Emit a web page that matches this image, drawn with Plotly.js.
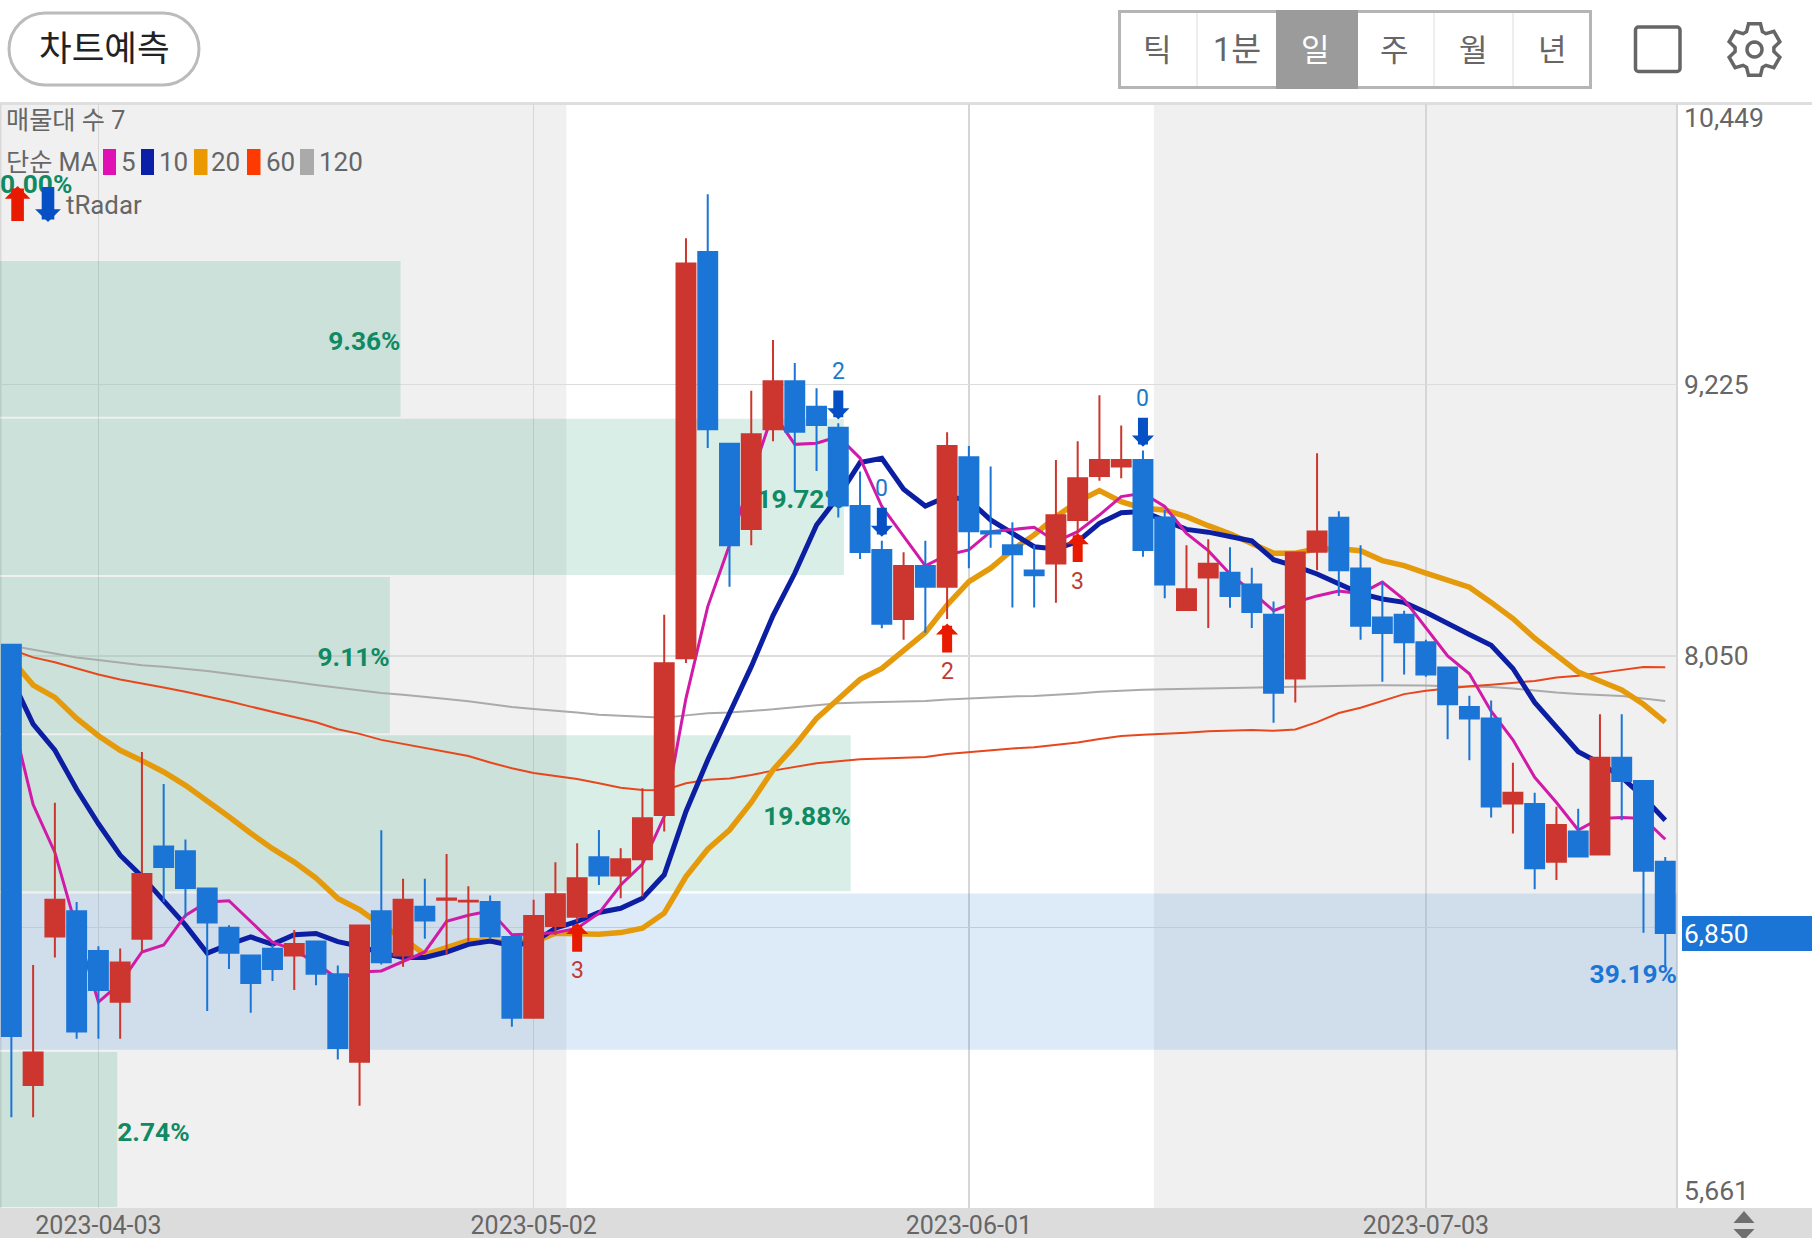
<!DOCTYPE html>
<html><head><meta charset="utf-8">
<script src="https://cdn.plot.ly/plotly-3.0.1.min.js"></script>
<style>html,body{margin:0;padding:0;background:#fff}#c{width:1812px;height:1238px}</style></head>
<body><div id="c"></div>
<script>
const open_=[8099,6193,6836,6945,6773,6554,6826,7225,7205,7044,6874,6754,6783,6754,6814,6673,6294,6945,6754,6965,6995,6987,6985,6834,6484,6882,6922,7179,7100,7170,7362,8040,9798,8969,8600,9031,9239,9129,9038,8699,8509,8210,8440,8350,8910,8590,8529,8420,8450,8639,8829,8870,8898,8649,8249,8390,8410,8359,8229,7953,8501,8648,8429,8217,8228,8110,8000,7829,7780,7412,7409,7160,7290,7191,7610,7509,7160];
const high_=[8099,6713,7415,6985,6794,6784,7635,7496,7256,7044,6885,6754,6800,6864,6814,6711,6884,7296,7086,7086,7193,7054,7014,6834,6995,7157,7240,7297,7218,7478,8228,9858,10048,8969,9198,9418,9318,9209,9057,8848,8549,8499,8549,9018,8959,8870,8629,8529,8898,8979,9178,9048,8939,8682,8529,8555,8521,8432,8286,8498,8928,8677,8529,8375,8246,8120,8000,7878,7857,7588,7458,7398,7389,7798,7798,7509,7180];
const low_=[6054,6054,6745,6393,6393,6393,6769,6985,6918,6514,6695,6506,6643,6605,6625,6304,6104,6715,6705,6826,6758,6814,6824,6445,6484,6843,6900,7059,7002,7009,7290,8020,8950,8350,8529,8979,8761,8851,8649,8470,8170,8120,8151,8210,8430,8519,8260,8260,8281,8581,8809,8819,8480,8300,8249,8171,8259,8171,7761,7849,8421,8310,8120,7939,7970,7960,7690,7599,7351,7282,7041,7081,7182,7191,7339,6852,6705];
const close_=[6405,6334,6995,6425,6605,6723,7106,7137,7046,6897,6766,6635,6695,6804,6675,6354,6884,6725,6995,6905,7000,6991,6836,6484,6925,7019,7088,7100,7170,7348,8019,9749,9031,8529,9010,9239,9021,9050,8701,8500,8190,8440,8350,8959,8590,8580,8490,8400,8659,8819,8898,8898,8509,8359,8339,8449,8310,8240,7891,8498,8589,8421,8181,8150,8110,7970,7841,7780,7399,7458,7131,7319,7182,7610,7509,7121,6851];
const ma5=[7796,7407,7200,6870,6552,6634,6769,6799,6927,6985,6991,6902,6811,6778,6720,6653,6682,6687,6728,6769,6902,6928,6947,6844,6847,6852,6872,6937,7059,7149,7355,7867,8264,8530,8823,9103,8966,8971,9000,8906,8697,8567,8440,8487,8509,8588,8596,8607,8545,8588,8660,8740,8754,8697,8581,8506,8405,8328,8246,8282,8310,8331,8320,8370,8294,8171,8050,7973,7811,7687,7525,7416,7297,7347,7351,7347,7257];
const ma10=[7953,7755,7642,7473,7324,7188,7096,6993,6885,6764,6802,6834,6802,6844,6849,6814,6794,6764,6745,6745,6769,6802,6816,6797,6811,6872,6901,6940,6958,7002,7103,7377,7600,7802,8004,8225,8408,8617,8740,8887,8906,8772,8699,8740,8725,8639,8581,8523,8513,8545,8624,8670,8675,8639,8598,8586,8568,8548,8467,8439,8405,8362,8320,8297,8282,8239,8189,8143,8096,7996,7849,7741,7636,7586,7525,7440,7339];
const ma20=[8036,7924,7871,7780,7705,7642,7597,7548,7490,7424,7354,7283,7216,7158,7089,7001,6952,6885,6827,6758,6786,6819,6816,6811,6811,6850,6847,6846,6853,6872,6937,7095,7214,7297,7416,7557,7662,7780,7864,7949,7996,8076,8151,8271,8372,8430,8509,8574,8653,8718,8766,8718,8689,8682,8653,8614,8579,8537,8495,8495,8514,8514,8506,8463,8441,8409,8378,8348,8282,8212,8127,8050,7980,7942,7903,7841,7764];
const ma60=[8078,8044,8023,7995,7970,7948,7932,7914,7895,7876,7854,7831,7809,7786,7763,7733,7713,7687,7669,7650,7634,7617,7589,7564,7544,7531,7518,7499,7480,7470,7469,7499,7514,7520,7535,7554,7571,7586,7595,7603,7606,7610,7613,7626,7634,7643,7650,7655,7665,7676,7691,7704,7709,7712,7718,7724,7728,7730,7726,7732,7764,7803,7826,7857,7885,7900,7911,7919,7926,7934,7942,7957,7965,7977,7990,8002,8001];
const ma120=[8094,8078,8061,8044,8033,8020,8010,8003,7995,7985,7973,7962,7948,7937,7924,7912,7900,7890,7882,7874,7864,7854,7841,7829,7821,7814,7805,7796,7791,7785,7783,7793,7802,7806,7812,7819,7828,7837,7845,7849,7851,7852,7855,7862,7867,7871,7875,7877,7881,7888,7895,7901,7904,7906,7908,7911,7913,7914,7914,7916,7919,7922,7922,7923,7923,7922,7919,7919,7916,7909,7900,7892,7886,7882,7877,7866,7855];
const dateTickIdx=[4,24,44,65];
const dateTickText=['2023-04-03','2023-05-02','2023-06-01','2023-07-03'];
const priceTickVals=[9225,8050,6875];
const priceTickText=['9,225','8,050',''];
const priceMax=10449, priceMin=5661, lastPrice=6847;
const bandLow=[9764,9081,8396,7711,7027,6341,5661];
const bandHigh=[10439,9764,9081,8396,7711,7027,6341];
const bandPct=[0,9.36,19.72,9.11,19.88,39.19,2.74];
const upIdx=[26,43,49], upPrice=[6895,8191,8582], upCount=['3','2','3'];
const downIdx=[38,40,52], downPrice=[9074,8566,8956], downCount=['2','0','0'];
const shadeStart=[-0.52,52.5], shadeEnd=[25.5,76.54];
const periods=['틱','1분','일','주','월','년'];

const W=1812,H=1238;
const px=v=>v/W, py=v=>1-v/H;
const FONT="Roboto, 'Noto Sans CJK KR', sans-serif";
const RED='#cc362e', BLUE='#1b75d6', GREY='#666666', GREEN='#0f8a63';
const xRange=[-0.522,76.54], yRange=[5661,10439];
const idx=close_.map((_,i)=>i);
const pctToX=(xRange[1]-xRange[0])/39.19;
const mids=bandLow.map((l,i)=>(l+bandHigh[i])/2);

function line(name,y,color,width){return {type:'scatter',mode:'lines',name,x:idx,y,line:{color,width},zorder:1,hoverinfo:'skip',showlegend:false};}
const traces=[
 {type:'bar',orientation:'h',x:bandPct.map(p=>p*pctToX),y:mids,base:bandPct.map(()=>xRange[0]),width:bandLow.map((l,i)=>bandHigh[i]-l-9),
  marker:{color:bandPct.map((p,i)=>i===5?'rgba(25,118,210,0.15)':'rgba(0,138,94,0.15)'),line:{width:0}},zorder:0,hoverinfo:'skip',showlegend:false},
 {type:'scatter',mode:'text',x:bandPct.map(p=>p*pctToX+xRange[0]),y:mids.map(m=>m-20),text:bandPct.map(p=>p.toFixed(2)+'%'),
  textposition:bandPct.map(p=>p<5?'middle right':'middle left'),
  textfont:{family:FONT,size:26.3,weight:700,color:bandPct.map((p,i)=>i===5?BLUE:GREEN)},cliponaxis:false,zorder:0,hoverinfo:'skip',showlegend:false},
 line('MA120',ma120,'#aaaaaa',2),
 line('MA60',ma60,'#e8471c',2),
 line('MA20',ma20,'#e59a0c',5.5),
 line('MA10',ma10,'#0c1fa3',5),
 line('MA5',ma5,'#d11aa8',3),
 {type:'candlestick',x:idx,open:open_,high:high_,low:low_,close:close_,
  increasing:{line:{color:RED,width:2},fillcolor:RED},decreasing:{line:{color:BLUE,width:2},fillcolor:BLUE},
  whiskerwidth:0,zorder:2,hoverinfo:'skip',showlegend:false}
];

const shapes=[];
shadeStart.forEach((s,i)=>shapes.push({type:'rect',layer:'below',xref:'x',yref:'paper',x0:s,x1:shadeEnd[i],y0:py(1208),y1:py(104),fillcolor:'#f0f0f0',line:{width:0}}));
function paperRect(x0,y0,x1,y1,fill,lineColor,lw,layer){shapes.push({type:'rect',layer:layer||'below',xref:'paper',yref:'paper',x0:px(x0),x1:px(x1),y0:py(y1),y1:py(y0),fillcolor:fill||'rgba(0,0,0,0)',line:{color:lineColor||'rgba(0,0,0,0)',width:lw||0}});}
function paperPath(d,fill,lineColor,lw){shapes.push({type:'path',layer:'above',xref:'paper',yref:'paper',path:d,fillcolor:fill||'rgba(0,0,0,0)',line:{color:lineColor||'rgba(0,0,0,0)',width:lw||0}});}
const P=(x,y)=>px(x)+','+py(y);
function rrect(x0,y0,x1,y1,r){const k=r*0.45;return 'M'+P(x0+r,y0)+'L'+P(x1-r,y0)+'C'+P(x1-k,y0)+' '+P(x1,y0+k)+' '+P(x1,y0+r)+'L'+P(x1,y1-r)+'C'+P(x1,y1-k)+' '+P(x1-k,y1)+' '+P(x1-r,y1)+'L'+P(x0+r,y1)+'C'+P(x0+k,y1)+' '+P(x0,y1-k)+' '+P(x0,y1-r)+'L'+P(x0,y0+r)+'C'+P(x0,y0+k)+' '+P(x0+k,y0)+' '+P(x0+r,y0)+'Z';}
// chrome
paperRect(0,102,1812,105,'#dedede');
paperRect(0,1208,1812,1238,'#dcdcdc');
paperRect(1676,104,1678,1208,'#d5d5d5');
paperRect(0,104,1.5,1208,'#d9d9d9');
paperRect(1682,916,1812,951,BLUE,null,0,'above');
paperPath(rrect(9,13,199,85,36),'#ffffff','#bbbbbb',3);
// period selector
paperRect(1119.5,11.5,1590.5,87.5,'#ffffff','#b5b5b5',3,'above');
paperRect(1276,10,1358,89,'#9b9b9b',null,0,'above');
[1197,1434,1513].forEach(x=>paperRect(x-1,13,x+1,86,'#eeeeee',null,0,'above'));
paperPath(rrect(1635.5,27,1680,71.5,3),'rgba(0,0,0,0)',GREY,3.5);
// gear icon
(function(){let d='';const cx=1754.5,cy=49.5;for(let i=0;i<6;i++){const a=(i*60-90)*Math.PI/180;
 [[19.5,-24],[26.5,-13],[26.5,13],[19.5,24]].forEach((q,j)=>{const b=a+q[1]*Math.PI/180;d+=((i===0&&j===0)?'M':'L')+P(cx+q[0]*Math.cos(b),cy+q[0]*Math.sin(b));});}
 d+='Z';paperPath(d,'rgba(0,0,0,0)',GREY,3.5);
 let c='';for(let i=0;i<=24;i++){const b=i*15*Math.PI/180;c+=(i?'L':'M')+P(cx+7.5*Math.cos(b),cy+7.5*Math.sin(b));}paperPath(c+'Z','rgba(0,0,0,0)',GREY,3.5);})();
// scroll triangles
paperPath('M'+P(1744,1211)+'L'+P(1754.5,1223)+'L'+P(1733.5,1223)+'Z','#6e6e6e');
paperPath('M'+P(1733.5,1229)+'L'+P(1754.5,1229)+'L'+P(1746,1238)+'L'+P(1742,1238)+'Z','#6e6e6e');
// legend swatches
[[103,116,'#e010b4'],[141,154,'#0c1fa8'],[194,207.5,'#ea9a00'],[247,260.5,'#ff3a00'],[300,314,'#aaaaaa']].forEach(s=>paperRect(s[0],149,s[1],175,s[2],null,0,'above'));

const ann=[];
function txt(t,x,y,size,color,anchor,extra){ann.push(Object.assign({text:t,xref:'paper',yref:'paper',x:px(x),y:py(y),showarrow:false,xanchor:anchor||'left',yanchor:'middle',borderpad:0,font:{family:FONT,size,color}},extra||{}));}
txt('차트예측',104,49,35.5,'#222222','center');
periods.forEach((p,i)=>txt(p,[1157,1236.5,1315,1394,1473,1552][i],50,i===1?32.5:31,i===2?'#ffffff':GREY,'center'));
txt('매물대 수 7',4.5,120,25.2,GREY);
txt('단순 MA',5,162,25.2,GREY);
[['5',120],['10',158],['20',210],['60',264.5],['120',318]].forEach(s=>txt(s[0],s[1],162,26,GREY));
txt('tRadar',65,205,25.8,GREY);
txt(priceMax.toLocaleString('en-US'),1683,118,26.6,GREY);
txt(priceMin.toLocaleString('en-US'),1683,1190,26.6,GREY);
ann.push({text:lastPrice>=6845?'6,850':'',xref:'paper',yref:'y',x:px(1683),y:lastPrice,showarrow:false,xanchor:'left',yanchor:'middle',borderpad:0,font:{family:FONT,size:26.4,color:'#ffffff'}});
function arrow(o,color,w,size,ay){ann.push(Object.assign({text:' ',font:{size:1},borderpad:0,showarrow:true,arrowhead:1,arrowcolor:color,arrowwidth:w,arrowsize:size,standoff:0,ax:0,ay},o));}
arrow({xref:'paper',yref:'paper',x:px(17.6),y:py(186)},'#e81a00',12.6,0.34,36);
arrow({xref:'paper',yref:'paper',x:px(48),y:py(222)},'#0550c5',12.6,0.34,-36);
upIdx.forEach((x,i)=>{arrow({xref:'x',yref:'y',x,y:upPrice[i]},'#e81a00',10,0.37,30);
 ann.push({text:upCount[i],xref:'x',yref:'y',x,y:upPrice[i],yshift:-48,showarrow:false,borderpad:0,font:{family:FONT,size:23,color:'#bd3b34'}});});
downIdx.forEach((x,i)=>{arrow({xref:'x',yref:'y',x,y:downPrice[i]},'#0550c5',10,0.37,-30);
 ann.push({text:downCount[i],xref:'x',yref:'y',x,y:downPrice[i],yshift:48,showarrow:false,borderpad:0,font:{family:FONT,size:23,color:'#1e78c8'}});});

const layout={width:W,height:H,margin:{l:0,r:0,t:0,b:0,pad:0},paper_bgcolor:'#ffffff',plot_bgcolor:'#ffffff',showlegend:false,
 font:{family:FONT,color:GREY},barmode:'overlay',boxgap:0.13,boxgroupgap:0,dragmode:false,hovermode:false,
 xaxis:{domain:[0,1677/W],range:xRange,type:'linear',tickmode:'array',tickvals:dateTickIdx,ticktext:dateTickText,ticks:'',showgrid:true,gridcolor:'#d6d6d6',gridwidth:1.5,zeroline:false,showline:false,rangeslider:{visible:false},tickfont:{family:FONT,size:25,color:GREY},fixedrange:true,automargin:false},
 yaxis:{domain:[py(1208),py(104)],range:yRange,type:'linear',side:'right',tickmode:'array',tickvals:priceTickVals,ticktext:priceTickText,ticks:'',showgrid:true,gridcolor:'#dcdcdc',gridwidth:1.5,zeroline:false,showline:false,tickfont:{family:FONT,size:26.4,color:GREY},ticklabelstandoff:6,fixedrange:true,automargin:false},
 shapes,annotations:ann};
Plotly.newPlot('c',traces,layout,{staticPlot:true,displayModeBar:false});
</script></body></html>
